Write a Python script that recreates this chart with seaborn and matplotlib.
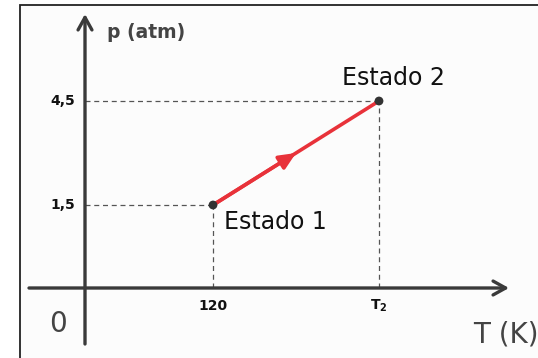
import numpy as np
import pandas as pd
import seaborn as sns
import matplotlib.pyplot as plt
from matplotlib.patches import Rectangle

# estados do gás (transformação isocórica)
T_vals = [120, 360]      # T1 = 120 K, T2 = 360 K
p_vals = [1.5, 4.5]      # atm
estados = ['Estado 1', 'Estado 2']
x_ticks = ['120', r'$\mathbf{T_2}$']
y_ticks = ['1,5', '4,5']

df = pd.DataFrame({'T': T_vals, 'p': p_vals, 'estado': estados})

sns.set_style('white')
W, H = 538, 358
fig = plt.figure(figsize=(W / 100, H / 100), dpi=100)
ax = fig.add_axes([0, 0, 1, 1])
ax.set_axis_off()

# escala: ponto 1 em (213,205) px, ponto 2 em (379,101) px
kx = (379 - 213) / (T_vals[1] - T_vals[0])
ky = (205 - 101) / (p_vals[1] - p_vals[0])
ax.set_xlim(T_vals[0] - 213 / kx, T_vals[0] + (W - 213) / kx)
ax.set_ylim(p_vals[0] - (H - 205) / ky, p_vals[0] + 205 / ky)


def px(x, y):
    # pixel -> fração do eixo
    return x / W, 1 - y / H


# fundo e moldura
ax.add_patch(Rectangle(px(20, 405), 600 / W, 400 / H, transform=ax.transAxes,
                       facecolor='#fcfcfc', edgecolor='#222222', lw=1.3, clip_on=False))

# linhas tracejadas
x0 = ax.get_xlim()[0] + 85 / kx
y0 = ax.get_ylim()[0] + (H - 288) / ky
for T, p in zip(T_vals, p_vals):
    ax.plot([x0, T], [p, p], ls=(0, (4, 3)), color='#555555', lw=0.9)
    ax.plot([T, T], [y0, p], ls=(0, (4, 3)), color='#555555', lw=0.9)

# eixos com setas
ax.annotate('', xy=px(85, 14), xytext=px(85, 344), xycoords='axes fraction',
            arrowprops=dict(arrowstyle='->,head_length=0.9,head_width=0.5',
                            color='#3a3a3a', lw=2.4, shrinkA=0, shrinkB=0))
ax.annotate('', xy=px(509, 288), xytext=px(29, 288), xycoords='axes fraction',
            arrowprops=dict(arrowstyle='->,head_length=0.9,head_width=0.5',
                            color='#3a3a3a', lw=2.4, shrinkA=0, shrinkB=0))

# processo
sns.lineplot(data=df, x='T', y='p', color='#e8323a', lw=2.6, ax=ax)
tm, pm = np.mean(T_vals), np.mean(p_vals)
ax.annotate('', xy=(tm, pm), xytext=(T_vals[0], p_vals[0]),
            arrowprops=dict(arrowstyle='-|>,head_length=1.0,head_width=0.45',
                            color='#e8323a', lw=2.6, shrinkA=0, shrinkB=0))
sns.scatterplot(data=df, x='T', y='p', color='#333333', s=40, edgecolor='none',
                ax=ax, zorder=5)

# textos
ax.text(*px(107, 33), 'p (atm)', transform=ax.transAxes, fontsize=13.5,
        fontweight='bold', color='#444444', va='center', ha='left')
for p, lab in zip(p_vals, y_ticks):
    ax.text(ax.get_xlim()[0] + 75 / kx, p, lab, fontsize=10, fontweight='bold',
            ha='right', va='center', color='#111111')
for T, lab in zip(T_vals, x_ticks):
    ax.text(T, ax.get_ylim()[0] + (H - 306) / ky, lab, fontsize=10, fontweight='bold',
            ha='center', va='center', color='#111111')
ax.text(T_vals[1] + 14 / kx, p_vals[1] + 23 / ky, estados[1], fontsize=17, ha='center',
        va='center', color='#111111')
ax.text(T_vals[0] + 11 / kx, p_vals[0] - 17 / ky, estados[0], fontsize=17, ha='left',
        va='center', color='#111111')
ax.text(*px(58, 324), '0', transform=ax.transAxes, fontsize=20, color='#444444',
        ha='center', va='center')
ax.text(*px(473, 334), 'T (K)', transform=ax.transAxes, fontsize=20, color='#444444',
        ha='left', va='center')

fig.savefig('out.png', dpi=100)
